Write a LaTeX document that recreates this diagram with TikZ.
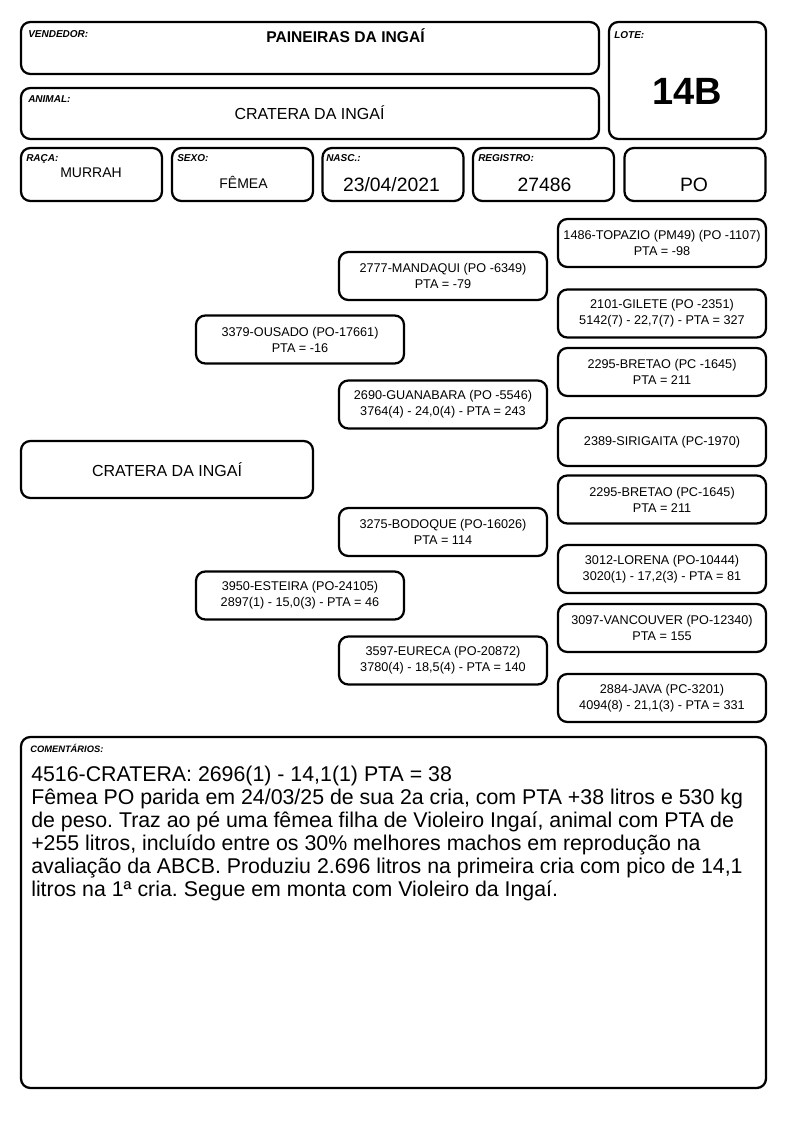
\documentclass[tikz,border=0pt]{standalone}
\usepackage{fontspec}
\setmainfont{Liberation Sans}
\usetikzlibrary{positioning}
\frenchspacing
\tikzset{
  card/.style={draw,line width=1.7pt,rounded corners=7pt,inner sep=0pt},
  sz/.style 2 args={minimum width=#1*0.75pt,minimum height=#2*0.75pt},
  tag/.style={anchor=base west,inner sep=0pt,font=\fontsize{7.5}{8}\selectfont\bfseries\itshape},
  val/.style={anchor=base,inner sep=0pt,font=\fontsize{10.5}{12}\selectfont},
  ped/.style={card,sz={208}{48},align=center,font=\fontsize{9.5}{12}\selectfont},
}
\begin{document}
\begin{tikzpicture}[x=0.75pt,y=-0.75pt]
  \useasboundingbox (0,0) rectangle (794,1123);

  % header
  \node[card,sz={578}{52}] (vend) at (310,48) {};
  \node[card,sz={157}{117}] (lote) at (687.5,80.5) {};
  \node[card,sz={578}{51}] (anim) at (310,113.5) {};
  \node[tag] (tvend) at (28,38) {VENDEDOR:};
  \node[tag] (tlote) at (614,39) {LOTE:};
  \node[tag] (tanim) at (28,103) {ANIMAL:};
  \node[val,font=\fontsize{11.7}{13}\selectfont\bfseries] (nvend) at (345.5,43) {PAINEIRAS DA INGAÍ};
  \node[val,font=\fontsize{12}{14}\selectfont] (nanim) at (309.5,120) {CRATERA DA INGAÍ};
  \node[val,font=\fontsize{28.5}{30}\selectfont\bfseries] (nlote) at (687,105) {14B};

  % dados
  \node[card,sz={141}{53}] (raca) at (91.5,174.5) {};
  \node[card,sz={141}{53}] (sexo) at (242.5,174.5) {};
  \node[card,sz={141}{53}] (nasc) at (393,174.5) {};
  \node[card,sz={141}{53}] (reg) at (543.5,174.5) {};
  \node[card,sz={141}{53}] (cat) at (695,174.5) {};
  \node[tag] (traca) at (26,162) {RAÇA:};
  \node[tag] (tsexo) at (177,162) {SEXO:};
  \node[tag] (tnasc) at (326,162) {NASC.:};
  \node[tag] (treg) at (478,162) {REGISTRO:};
  \node[val] (nraca) at (91,178) {MURRAH};
  \node[val] (nsexo) at (243.5,189) {FÊMEA};
  \node[val,font=\fontsize{14.5}{16}\selectfont] (nnasc) at (391.5,192) {23/04/2021};
  \node[val,font=\fontsize{14.5}{16}\selectfont] (nreg) at (544.5,192) {27486};
  \node[val,font=\fontsize{14.5}{16}\selectfont] (ncat) at (694,192) {PO};

  % pedigree
  \node[card,sz={292}{57},font=\fontsize{12}{14}\selectfont] (cria) at (167,469.5) {CRATERA DA INGAÍ};

  \node[ped] (p) at (300,339.5) {3379-OUSADO (PO-17661)\\PTA = -16};
  \node[ped] (m) at (300,595.5) {3950-ESTEIRA (PO-24105)\\2897(1) - 15,0(3) - PTA = 46};

  \node[ped] (pp) at (443,276) {2777-MANDAQUI (PO -6349)\\PTA = -79};
  \node[ped] (pm) at (443,404.5) {2690-GUANABARA (PO -5546)\\3764(4) - 24,0(4) - PTA = 243};
  \node[ped] (mp) at (443,532) {3275-BODOQUE (PO-16026)\\PTA = 114};
  \node[ped] (mm) at (443,660.5) {3597-EURECA (PO-20872)\\3780(4) - 18,5(4) - PTA = 140};

  \node[ped] (ppp) at (662,243) {1486-TOPAZIO (PM49) (PO -1107)\\PTA = -98};
  \node[ped] (ppm) at (662,313.5) {2101-GILETE (PO -2351)\\5142(7) - 22,7(7) - PTA = 327};
  \node[ped] (pmp) at (662,372) {2295-BRETAO (PC -1645)\\PTA = 211};
  \node[ped] (pmm) at (662,442) {2389-SIRIGAITA (PC-1970)};
  \node[ped] (mpp) at (662,499.5) {2295-BRETAO (PC-1645)\\PTA = 211};
  \node[ped] (mpm) at (662,569) {3012-LORENA (PO-10444)\\3020(1) - 17,2(3) - PTA = 81};
  \node[ped] (mmp) at (662,628) {3097-VANCOUVER (PO-12340)\\PTA = 155};
  \node[ped] (mmm) at (662,698) {2884-JAVA (PC-3201)\\4094(8) - 21,1(3) - PTA = 331};

  % comentarios
  \node[card,sz={745}{351}] (obs) at (393.5,912.5) {};
  \node[tag,font=\fontsize{7}{8}\selectfont\bfseries\itshape] (tobs) at (30,752) {COMENTÁRIOS:};
  \node[anchor=base west,inner sep=0pt,align=left,font=\fontsize{16}{17.25}\selectfont] (nobs) at (31,896)
    {4516-CRATERA: 2696(1) - 14,1(1) PTA = 38\\
     Fêmea PO parida em 24/03/25 de sua 2a cria, com PTA +38 litros e 530 kg\\
     de peso. Traz ao pé uma fêmea filha de Violeiro Ingaí, animal com PTA de\\
     +255 litros, incluído entre os 30\% melhores machos em reprodução na\\
     avaliação da ABCB. Produziu 2.696 litros na primeira cria com pico de 14,1\\
     litros na 1ª cria. Segue em monta com Violeiro da Ingaí.};
\end{tikzpicture}
\end{document}
